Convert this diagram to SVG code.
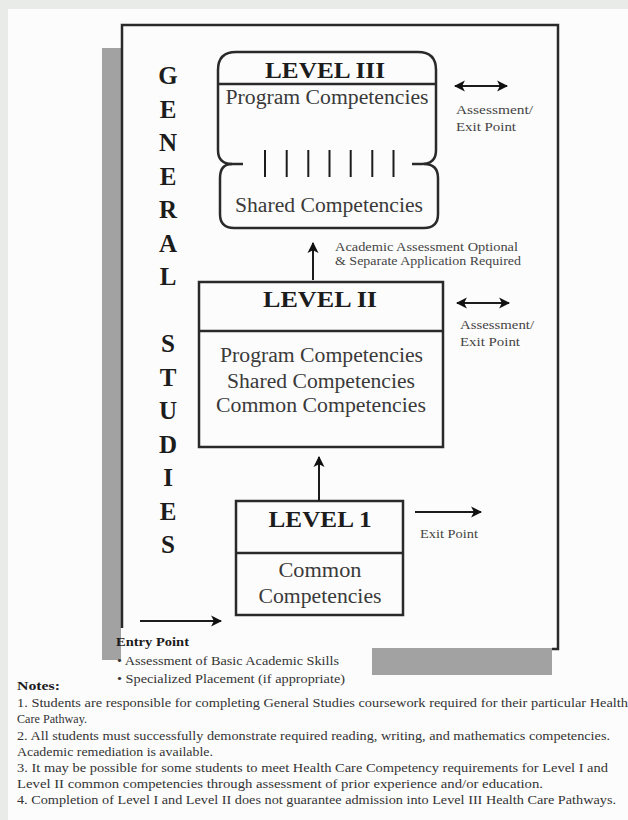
<svg xmlns="http://www.w3.org/2000/svg" width="628" height="820" viewBox="0 0 628 820">
<style>
text{font-family:"Liberation Serif","Times New Roman",serif;fill:#333}
.b{font-weight:bold;fill:#1c1c1c}
.lvl{font-size:23px;font-weight:bold;fill:#1c1c1c;text-anchor:middle}
.body{font-size:20px;text-anchor:middle;fill:#3a3a3a}
.side{font-size:25px;font-weight:bold;fill:#1c1c1c;text-anchor:middle}
.sm{font-size:11.5px;fill:#444}
.note{font-size:13px;fill:#333}
.box{fill:none;stroke:#2a2a2a;stroke-width:2.5}
.ln{fill:none;stroke:#1c1c1c;stroke-width:2}
.shade{fill:#a2a2a2}
</style>
<defs>
<marker id="ah" viewBox="0 0 10 10" refX="9" refY="5" markerUnits="userSpaceOnUse" markerWidth="11" markerHeight="12" orient="auto-start-reverse">
<path d="M0,0 L10,5 L0,10 L2.5,5 z" fill="#111"/>
</marker>
</defs>
<rect width="628" height="820" fill="#e9ebe9"/>
<rect x="8" y="9" width="620" height="811" fill="#fcfcfc"/>
<g id="page">
<rect class="shade" x="102" y="48" width="19" height="612"/>
<rect class="shade" x="372" y="648" width="180" height="27"/>
<path class="box" d="M122,628 V25 H558 V649 H552"/>
</g>
<g id="general-studies">
<text class="side" x="168" y="84">G</text>
<text class="side" x="168" y="117.5">E</text>
<text class="side" x="168" y="151">N</text>
<text class="side" x="168" y="184.5">E</text>
<text class="side" x="168" y="218">R</text>
<text class="side" x="168" y="251.5">A</text>
<text class="side" x="168" y="285">L</text>
<text class="side" x="168" y="352">S</text>
<text class="side" x="168" y="385.5">T</text>
<text class="side" x="168" y="419">U</text>
<text class="side" x="168" y="452.5">D</text>
<text class="side" x="168" y="486">I</text>
<text class="side" x="168" y="519.5">E</text>
<text class="side" x="168" y="553">S</text>
</g>
<g id="level3">
<path class="box" d="M412,164 H422 Q436,164 436,150 V70 Q436,52 418,52 H236 Q218,52 218,70 V150 Q218,164 232,164 H243"/>
<path class="box" d="M232,164 Q220,164 220,178 V214 Q220,228 234,228 H424 Q438,228 438,214 V178 Q438,164 424,164"/>
<line class="box" x1="218" y1="84" x2="436" y2="84"/>
<g class="ln">
<line x1="265" y1="150" x2="265" y2="177"/>
<line x1="286.7" y1="150" x2="286.7" y2="177"/>
<line x1="308.3" y1="150" x2="308.3" y2="177"/>
<line x1="329.5" y1="150" x2="329.5" y2="177"/>
<line x1="350.7" y1="150" x2="350.7" y2="177"/>
<line x1="372.3" y1="150" x2="372.3" y2="177"/>
<line x1="393.5" y1="150" x2="393.5" y2="177"/>
</g>
<text class="lvl" x="325" y="78" textLength="120" lengthAdjust="spacingAndGlyphs">LEVEL III</text>
<text class="body" x="327" y="104" textLength="203" lengthAdjust="spacingAndGlyphs">Program Competencies</text>
<text class="body" x="329" y="212" textLength="188" lengthAdjust="spacingAndGlyphs">Shared Competencies</text>
</g>
<g id="level2">
<rect class="box" x="199" y="282" width="244" height="165"/>
<line class="box" x1="199" y1="331" x2="443" y2="331"/>
<text class="lvl" x="320" y="307" textLength="114" lengthAdjust="spacingAndGlyphs">LEVEL II</text>
<text class="body" x="321.5" y="362" textLength="203" lengthAdjust="spacingAndGlyphs">Program Competencies</text>
<text class="body" x="321" y="388" textLength="188" lengthAdjust="spacingAndGlyphs">Shared Competencies</text>
<text class="body" x="321" y="412" textLength="210" lengthAdjust="spacingAndGlyphs">Common Competencies</text>
</g>
<g id="level1">
<rect class="box" x="236" y="501" width="167" height="114"/>
<line class="box" x1="236" y1="553" x2="403" y2="553"/>
<text class="lvl" x="320" y="527" textLength="103" lengthAdjust="spacingAndGlyphs">LEVEL 1</text>
<text class="body" x="320" y="577" textLength="83" lengthAdjust="spacingAndGlyphs">Common</text>
<text class="body" x="320" y="603" textLength="123" lengthAdjust="spacingAndGlyphs">Competencies</text>
</g>
<g id="connectors">
<line class="ln" x1="313" y1="280" x2="313" y2="243" marker-end="url(#ah)"/>
<line class="ln" x1="319" y1="501" x2="319" y2="457" marker-end="url(#ah)"/>
<line class="ln" x1="455" y1="86" x2="507" y2="86" marker-start="url(#ah)" marker-end="url(#ah)"/>
<line class="ln" x1="457" y1="303" x2="509" y2="303" marker-start="url(#ah)" marker-end="url(#ah)"/>
<line class="ln" x1="415" y1="512" x2="481" y2="512" marker-end="url(#ah)"/>
<line class="ln" x1="140" y1="621" x2="221" y2="621" marker-end="url(#ah)"/>
</g>
<g id="labels">
<text class="sm" x="335" y="251" textLength="183" lengthAdjust="spacingAndGlyphs">Academic Assessment Optional</text>
<text class="sm" x="335" y="265" textLength="186" lengthAdjust="spacingAndGlyphs">&amp; Separate Application Required</text>
<text class="sm" x="456" y="114" textLength="77" lengthAdjust="spacingAndGlyphs">Assessment/</text>
<text class="sm" x="456" y="131" textLength="60" lengthAdjust="spacingAndGlyphs">Exit Point</text>
<text class="sm" x="460" y="329" textLength="74" lengthAdjust="spacingAndGlyphs">Assessment/</text>
<text class="sm" x="460" y="346" textLength="60" lengthAdjust="spacingAndGlyphs">Exit Point</text>
<text class="sm" x="420" y="538" textLength="58" lengthAdjust="spacingAndGlyphs">Exit Point</text>
</g>
<g id="entry">
<text class="b" x="116" y="646" font-size="12.5" textLength="73" lengthAdjust="spacingAndGlyphs">Entry Point</text>
<text class="note" x="117" y="665" font-size="12.5" textLength="222" lengthAdjust="spacingAndGlyphs">• Assessment of Basic Academic Skills</text>
<text class="note" x="117" y="683" font-size="12.5" textLength="228" lengthAdjust="spacingAndGlyphs">• Specialized Placement (if appropriate)</text>
</g>
<g id="notes">
<text class="b" x="17" y="690" font-size="12.5" textLength="43" lengthAdjust="spacingAndGlyphs">Notes:</text>
<text class="note" x="17" y="707" textLength="611" lengthAdjust="spacingAndGlyphs">1. Students are responsible for completing General Studies coursework required for their particular Health</text>
<text class="note" x="17" y="723" textLength="70" lengthAdjust="spacingAndGlyphs">Care Pathway.</text>
<text class="note" x="17" y="740" textLength="593" lengthAdjust="spacingAndGlyphs">2. All students must successfully demonstrate required reading, writing, and mathematics competencies.</text>
<text class="note" x="17" y="756" textLength="196" lengthAdjust="spacingAndGlyphs">Academic remediation is available.</text>
<text class="note" x="17" y="772" textLength="591" lengthAdjust="spacingAndGlyphs">3. It may be possible for some students to meet Health Care Competency requirements for Level I and</text>
<text class="note" x="17" y="788" textLength="526" lengthAdjust="spacingAndGlyphs">Level II common competencies through assessment of prior experience and/or education.</text>
<text class="note" x="17" y="804" textLength="599" lengthAdjust="spacingAndGlyphs">4. Completion of Level I and Level II does not guarantee admission into Level III Health Care Pathways.</text>
</g>
</svg>
